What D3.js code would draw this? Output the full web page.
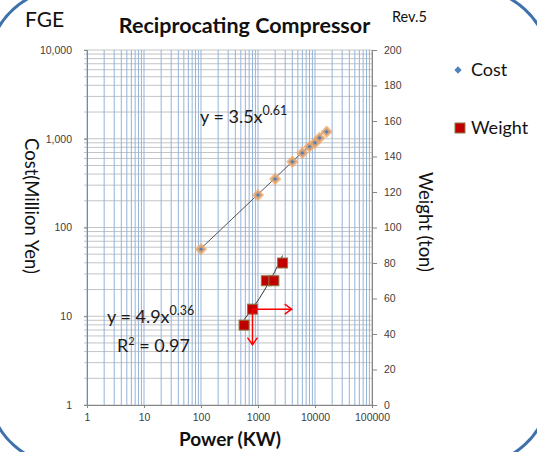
<!DOCTYPE html>
<html>
<head>
<meta charset="utf-8">
<script src="https://cdn.jsdelivr.net/npm/d3@7"></script>
<style>
  body { margin: 0; background: #fff; }
  svg { display: block; font-family: Lato, "Open Sans", sans-serif; }
  .tick text { fill: #404040; font-size: 10.5px; }
  .axis path, .axis line { stroke: #868686; }
</style>
</head>
<body>
<svg id="chart" width="537" height="452"></svg>
<script>
// data
var costPower = [100, 1000, 2000, 4000, 6000, 8000, 10000, 12000, 16000];
var costValue = [57, 232, 352, 551, 690, 815, 900, 1020, 1200];
var weightPower = [570, 800, 1400, 1900, 2700];
var weightValue = [45, 54, 70, 70, 80];
var costFit = [3.5, 0.61];     // y = a x^b
var weightFit = [4.9, 0.36];
var weightR2 = 0.97;
var xTicks = [1, 10, 100, 1000, 10000, 100000];
var yLeftTicks = [1, 10, 100, 1000, 10000];
var yRightTicks = [0, 20, 40, 60, 80, 100, 120, 140, 160, 180, 200];
// red arrows from the 800 kW point: right to 3900 kW, down to 34 t
var arrowFrom = [800, 54];
var arrowRight = 3900;
var arrowDown = 34;

var svg = d3.select("#chart");
var margin = {top: 50, right: 165, bottom: 47, left: 87};
var width = 537 - margin.left - margin.right,
    height = 452 - margin.top - margin.bottom;

var x = d3.scaleLog().domain([1, 100000]).range([margin.left, margin.left + width]);
var yL = d3.scaleLog().domain([1, 10000]).range([margin.top + height, margin.top]);
var yR = d3.scaleLinear().domain([0, 200]).range([margin.top + height, margin.top]);

// frame
svg.append("rect")
  .attr("x", -10).attr("y", -12).attr("width", 558).attr("height", 478)
  .attr("rx", 80).attr("ry", 72)
  .attr("fill", "none").attr("stroke", "#3F72AB").attr("stroke-width", 3);

// minor log values
function logMinors(lo, hi) {
  var v = [];
  for (var d = lo; d < hi; d *= 10)
    for (var k = 1; k < 10; k++) v.push(d * k);
  v.push(hi);
  return v;
}

var grid = svg.append("g");
grid.selectAll("line.h").data(logMinors(1, 10000)).enter().append("line")
  .attr("class", "h")
  .attr("x1", margin.left - 3).attr("x2", margin.left + width)
  .attr("y1", function(d) { return yL(d); }).attr("y2", function(d) { return yL(d); })
  .attr("stroke", "#C4C4C4").attr("stroke-width", 1);
grid.selectAll("line.v").data(logMinors(1, 100000)).enter().append("line")
  .attr("class", "v")
  .attr("y1", margin.top).attr("y2", margin.top + height)
  .attr("x1", function(d) { return x(d); }).attr("x2", function(d) { return x(d); })
  .attr("stroke", "#95B3D7").attr("stroke-width", 1);

// axes
svg.append("g").attr("class", "axis")
  .attr("transform", "translate(0," + (margin.top + height) + ")")
  .call(d3.axisBottom(x).tickValues(xTicks).tickFormat(d3.format("d")).tickSize(3).tickPadding(6));
svg.append("g").attr("class", "axis")
  .attr("transform", "translate(" + margin.left + ",0)")
  .call(d3.axisLeft(yL).tickValues(yLeftTicks).tickFormat(d3.format(",")).tickSize(3).tickPadding(12));
svg.append("g").attr("class", "axis")
  .attr("transform", "translate(" + (margin.left + width) + ",0)")
  .call(d3.axisRight(yR).tickValues(yRightTicks).tickSize(5).tickPadding(7));
svg.selectAll(".axis .domain").attr("stroke", "#868686");

// trendlines
var costLine = d3.line()
  .x(function(d) { return x(d); })
  .y(function(d) { return yL(costFit[0] * Math.pow(d, costFit[1])); });
svg.append("path")
  .datum([costPower[0], costPower[costPower.length - 1]])
  .attr("d", costLine).attr("fill", "none").attr("stroke", "#555").attr("stroke-width", 1);

var wLo = weightPower[0], wHi = weightPower[weightPower.length - 1];
var wSteps = d3.range(0, 11).map(function(i) { return wLo * Math.pow(wHi / wLo, i / 10); });
var weightLine = d3.line()
  .x(function(d) { return x(d); })
  .y(function(d) { return yR(weightFit[0] * Math.pow(d, weightFit[1])); });
svg.append("path")
  .datum(wSteps)
  .attr("d", weightLine).attr("fill", "none").attr("stroke", "#333").attr("stroke-width", 1);

// cost markers: blue diamonds with orange glow
var diamond = d3.symbol().type(d3.symbolDiamond2).size(42);
var costPts = costPower.map(function(p, i) { return [p, costValue[i]]; });
svg.append("g").selectAll("path").data(costPts).enter().append("path")
  .attr("d", diamond)
  .attr("transform", function(d) { return "translate(" + x(d[0]) + "," + yL(d[1]) + ")"; })
  .attr("fill", "#4F81BD").attr("stroke", "#F0A868").attr("stroke-opacity", 0.8).attr("stroke-width", 3);

// weight markers: red squares
var wPts = weightPower.map(function(p, i) { return [p, weightValue[i]]; });
svg.append("g").selectAll("rect").data(wPts).enter().append("rect")
  .attr("x", function(d) { return x(d[0]) - 5; })
  .attr("y", function(d) { return yR(d[1]) - 5; })
  .attr("width", 10).attr("height", 10)
  .attr("fill", "#C00000").attr("stroke", "#8C7D45").attr("stroke-width", 1);

// red arrows
var ax = x(arrowFrom[0]), ay = yR(arrowFrom[1]);
var red = svg.append("g").attr("stroke", "#FF0000").attr("stroke-width", 1.5).attr("fill", "none");
var rx = x(arrowRight), dy = yR(arrowDown);
red.append("line").attr("x1", ax).attr("y1", ay).attr("x2", rx).attr("y2", ay);
red.append("path").attr("d", "M" + (rx - 7) + "," + (ay - 5) + "L" + rx + "," + ay + "L" + (rx - 7) + "," + (ay + 5));
red.append("line").attr("x1", ax).attr("y1", ay).attr("x2", ax).attr("y2", dy);
red.append("path").attr("d", "M" + (ax - 5) + "," + (dy - 7) + "L" + ax + "," + dy + "L" + (ax + 5) + "," + (dy - 7));

// equations
function powerLabel(g, px, py, fit) {
  var t = g.append("text").attr("x", px).attr("y", py)
    .attr("font-size", 18).attr("fill", "#1a1a1a");
  t.append("tspan").text("y = " + fit[0] + "x");
  t.append("tspan").attr("dy", -8).attr("font-size", 12.5).text(fit[1]);
}
powerLabel(svg, 200, 123, costFit);
powerLabel(svg, 107, 323, weightFit);
var r2 = svg.append("text").attr("x", 117).attr("y", 352)
  .attr("font-size", 18).attr("fill", "#1a1a1a");
r2.append("tspan").text("R");
r2.append("tspan").attr("dy", -7).attr("font-size", 11).text("2");
r2.append("tspan").attr("dy", 7).text(" = " + weightR2);

// titles
svg.append("text").attr("x", 244.5).attr("y", 33).attr("text-anchor", "middle")
  .attr("font-size", 21.5).attr("font-weight", "bold").attr("fill", "#111")
  .text("Reciprocating Compressor");
svg.append("text").attr("x", 25).attr("y", 27).attr("font-size", 21).attr("fill", "#111").text("FGE");
svg.append("text").attr("x", 392).attr("y", 22).attr("font-size", 14.5).attr("fill", "#111").text("Rev.5");
svg.append("text").attr("x", 230).attr("y", 446).attr("text-anchor", "middle")
  .attr("font-size", 19).attr("font-weight", "bold").attr("fill", "#111").text("Power (KW)");
svg.append("text").attr("transform", "translate(25,206) rotate(90)").attr("text-anchor", "middle")
  .attr("font-size", 18.5).attr("fill", "#111").text("Cost(Million Yen)");
svg.append("text").attr("transform", "translate(419,222) rotate(90)").attr("text-anchor", "middle")
  .attr("font-size", 18.5).attr("fill", "#111").text("Weight (ton)");

// legend
var leg = svg.append("g");
leg.append("path").attr("d", d3.symbol().type(d3.symbolDiamond2).size(34))
  .attr("transform", "translate(458,70)").attr("fill", "#4F81BD");
leg.append("text").attr("x", 471).attr("y", 76).attr("font-size", 18).attr("fill", "#111").text("Cost");
leg.append("rect").attr("x", 455).attr("y", 123).attr("width", 10).attr("height", 10)
  .attr("fill", "#C00000").attr("stroke", "#8C7D45");
leg.append("text").attr("x", 471).attr("y", 134).attr("font-size", 18).attr("fill", "#111").text("Weight");
</script>
</body>
</html>
